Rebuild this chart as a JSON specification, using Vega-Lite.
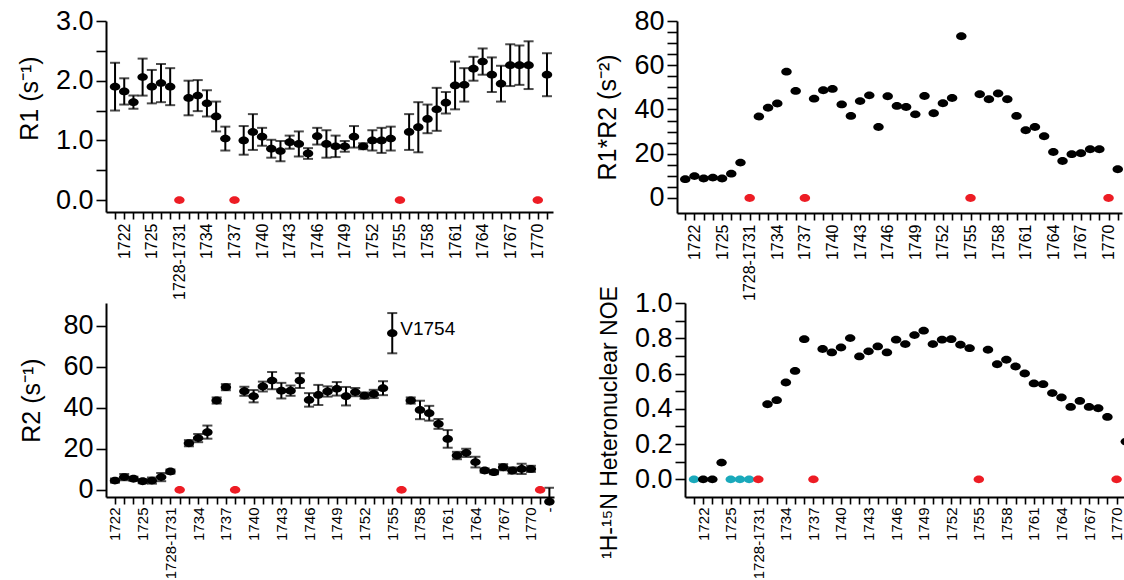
{
  "$schema": "https://vega.github.io/schema/vega-lite/v6.json",
  "background": "white",
  "padding": {"left": 17, "top": 7, "right": 0, "bottom": 0},
  "datasets": {
    "rows": [
      {"res":"1721","k":"data","nk":"nd","r1":1.90,"r1e":0.40,"r2":4.5,"r2e":1.0,"r1r2":8.5,"noe":0},
      {"res":"1722","k":"data","nk":"data","r1":1.82,"r1e":0.22,"r2":6.2,"r2e":1.5,"r1r2":9.9,"noe":0},
      {"res":"1723","k":"data","nk":"data","r1":1.64,"r1e":0.11,"r2":5.4,"r2e":1.0,"r1r2":8.8,"noe":0},
      {"res":"1724","k":"data","nk":"data","r1":2.06,"r1e":0.31,"r2":4.2,"r2e":1.0,"r1r2":9.2,"noe":0.095},
      {"res":"1725","k":"data","nk":"nd","r1":1.90,"r1e":0.28,"r2":4.5,"r2e":1.5,"r1r2":8.8,"noe":0},
      {"res":"1726","k":"data","nk":"nd","r1":1.96,"r1e":0.32,"r2":6.2,"r2e":2.0,"r1r2":11.0,"noe":0},
      {"res":"1727","k":"data","nk":"nd","r1":1.90,"r1e":0.31,"r2":8.9,"r2e":1.0,"r1r2":16.0,"noe":0},
      {"res":"1728-1731","k":"gap","nk":"gap","r1":0,"r2":0,"r1r2":0,"noe":0},
      {"res":"1732","k":"data","nk":"data","r1":1.71,"r1e":0.29,"r2":22.7,"r2e":1.5,"r1r2":36.8,"noe":0.426},
      {"res":"1733","k":"data","nk":"data","r1":1.75,"r1e":0.26,"r2":25.2,"r2e":2.0,"r1r2":40.8,"noe":0.449},
      {"res":"1734","k":"data","nk":"data","r1":1.62,"r1e":0.22,"r2":28.1,"r2e":3.2,"r1r2":42.7,"noe":0.549},
      {"res":"1735","k":"data","nk":"data","r1":1.40,"r1e":0.25,"r2":43.5,"r2e":1.5,"r1r2":57.1,"noe":0.615},
      {"res":"1736","k":"data","nk":"data","r1":1.03,"r1e":0.20,"r2":50.0,"r2e":1.5,"r1r2":48.4,"noe":0.795},
      {"res":"1737","k":"gap","nk":"gap","r1":0,"r2":0,"r1r2":0,"noe":0},
      {"res":"1738","k":"data","nk":"data","r1":1.00,"r1e":0.24,"r2":48.0,"r2e":2.2,"r1r2":44.9,"noe":0.739},
      {"res":"1739","k":"data","nk":"data","r1":1.14,"r1e":0.30,"r2":45.6,"r2e":3.0,"r1r2":48.7,"noe":0.720},
      {"res":"1740","k":"data","nk":"data","r1":1.06,"r1e":0.15,"r2":50.3,"r2e":2.4,"r1r2":49.3,"noe":0.748},
      {"res":"1741","k":"data","nk":"data","r1":0.86,"r1e":0.15,"r2":53.2,"r2e":4.2,"r1r2":42.3,"noe":0.801},
      {"res":"1742","k":"data","nk":"data","r1":0.82,"r1e":0.17,"r2":48.3,"r2e":3.8,"r1r2":37.1,"noe":0.697},
      {"res":"1743","k":"data","nk":"data","r1":0.97,"r1e":0.11,"r2":48.3,"r2e":2.5,"r1r2":43.8,"noe":0.726},
      {"res":"1744","k":"data","nk":"data","r1":0.94,"r1e":0.21,"r2":53.2,"r2e":3.6,"r1r2":46.4,"noe":0.754},
      {"res":"1745","k":"data","nk":"data","r1":0.78,"r1e":0.09,"r2":43.8,"r2e":3.3,"r1r2":32.1,"noe":0.720},
      {"res":"1746","k":"data","nk":"data","r1":1.07,"r1e":0.14,"r2":46.2,"r2e":4.9,"r1r2":46.0,"noe":0.792},
      {"res":"1747","k":"data","nk":"data","r1":0.94,"r1e":0.23,"r2":47.9,"r2e":2.5,"r1r2":41.6,"noe":0.767},
      {"res":"1748","k":"data","nk":"data","r1":0.90,"r1e":0.18,"r2":49.2,"r2e":3.3,"r1r2":41.1,"noe":0.818},
      {"res":"1749","k":"data","nk":"data","r1":0.90,"r1e":0.09,"r2":45.6,"r2e":4.5,"r1r2":37.8,"noe":0.843},
      {"res":"1750","k":"data","nk":"data","r1":1.06,"r1e":0.18,"r2":47.6,"r2e":2.0,"r1r2":46.1,"noe":0.767},
      {"res":"1751","k":"data","nk":"data","r1":0.90,"r1e":0.05,"r2":45.9,"r2e":1.5,"r1r2":38.3,"noe":0.792},
      {"res":"1752","k":"data","nk":"data","r1":1.00,"r1e":0.17,"r2":46.7,"r2e":2.0,"r1r2":42.8,"noe":0.795},
      {"res":"1753","k":"data","nk":"data","r1":1.00,"r1e":0.21,"r2":49.5,"r2e":3.4,"r1r2":45.2,"noe":0.763},
      {"res":"1754","k":"data","nk":"data","r1":1.03,"r1e":0.20,"r2":76.3,"r2e":9.8,"r1r2":73.1,"noe":0.744,"note":"V1754"},
      {"res":"1755","k":"gap","nk":"gap","r1":0,"r2":0,"r1r2":0,"noe":0},
      {"res":"1756","k":"data","nk":"data","r1":1.14,"r1e":0.30,"r2":43.5,"r2e":1.5,"r1r2":46.9,"noe":0.735},
      {"res":"1757","k":"data","nk":"data","r1":1.22,"r1e":0.42,"r2":38.9,"r2e":4.5,"r1r2":44.6,"noe":0.653},
      {"res":"1758","k":"data","nk":"data","r1":1.36,"r1e":0.24,"r2":37.3,"r2e":3.6,"r1r2":47.2,"noe":0.678},
      {"res":"1759","k":"data","nk":"data","r1":1.52,"r1e":0.36,"r2":32.1,"r2e":2.4,"r1r2":44.6,"noe":0.640},
      {"res":"1760","k":"data","nk":"data","r1":1.63,"r1e":0.18,"r2":24.8,"r2e":4.3,"r1r2":37.1,"noe":0.600},
      {"res":"1761","k":"data","nk":"data","r1":1.92,"r1e":0.40,"r2":16.7,"r2e":1.8,"r1r2":30.6,"noe":0.544},
      {"res":"1762","k":"data","nk":"data","r1":1.93,"r1e":0.28,"r2":18.0,"r2e":2.0,"r1r2":32.1,"noe":0.540},
      {"res":"1763","k":"data","nk":"data","r1":2.20,"r1e":0.20,"r2":13.5,"r2e":2.6,"r1r2":27.9,"noe":0.489},
      {"res":"1764","k":"data","nk":"data","r1":2.32,"r1e":0.22,"r2":9.4,"r2e":1.0,"r1r2":20.8,"noe":0.464},
      {"res":"1765","k":"data","nk":"data","r1":2.10,"r1e":0.29,"r2":8.6,"r2e":1.0,"r1r2":16.7,"noe":0.411},
      {"res":"1766","k":"data","nk":"data","r1":1.95,"r1e":0.30,"r2":11.0,"r2e":1.5,"r1r2":19.8,"noe":0.445},
      {"res":"1767","k":"data","nk":"data","r1":2.26,"r1e":0.35,"r2":9.4,"r2e":1.5,"r1r2":20.2,"noe":0.411},
      {"res":"1768","k":"data","nk":"data","r1":2.26,"r1e":0.33,"r2":10.2,"r2e":2.5,"r1r2":22.0,"noe":0.403},
      {"res":"1769","k":"data","nk":"data","r1":2.26,"r1e":0.40,"r2":10.2,"r2e":1.5,"r1r2":22.0,"noe":0.354},
      {"res":"1770","k":"gap","nk":"gap","r1":0,"r2":0,"r1r2":0,"noe":0},
      {"res":"1771","k":"data","nk":"data","r1":2.10,"r1e":0.36,"r2":-5.8,"r2e":6.8,"r1r2":13.0,"noe":0.214}
    ]
  },
  "spacing": -16,
  "vconcat": [
    {
      "bounds": "flush",
      "spacing": 124,
      "hconcat": [
        {
          "width": 447, "height": 191,
          "data": {"name": "rows"},
          "encoding": {
            "x": {"field": "res", "type": "ordinal",
              "scale": {"type": "point", "padding": 0.82, "align": 0.6, "domain": ["1721","1722","1723","1724","1725","1726","1727","1728-1731","1732","1733","1734","1735","1736","1737","1738","1739","1740","1741","1742","1743","1744","1745","1746","1747","1748","1749","1750","1751","1752","1753","1754","1755","1756","1757","1758","1759","1760","1761","1762","1763","1764","1765","1766","1767","1768","1769","1770","1771"]},
              "axis": {"title": null, "labelExpr": "indexof(['1722','1725','1728-1731','1734','1737','1740','1743','1746','1749','1752','1755','1758','1761','1764','1767','1770'], datum.value) >= 0 ? datum.value : ''"}}
          },
          "layer": [
            {
              "transform": [{"filter": "datum.k == 'data'"}],
              "mark": {"type": "errorbar", "ticks": {"size": 10, "thickness": 2, "color": "#000000"}, "thickness": 2, "color": "#000000"},
              "encoding": {
                "y": {"field": "r1", "type": "quantitative", "scale": {"domain": [-0.2, 3.0], "nice": false, "zero": false},
                  "axis": {"title": "R1 (s⁻¹)", "titleY": 77, "values": [0,0.5,1,1.5,2,2.5,3], "format": ".1f", "labelExpr": "datum.value % 1 == 0 ? datum.label : ''"}},
                "yError": {"field": "r1e"}
              }
            },
            {
              "mark": {"type": "point", "shape": "M-1,0A1,0.75,0,1,1,1,0A1,0.75,0,1,1,-1,0Z", "filled": true, "size": 110, "opacity": 1},
              "encoding": {
                "y": {"field": "r1", "type": "quantitative", "scale": {"domain": [-0.2, 3.0], "nice": false, "zero": false},
                  "axis": {"title": "R1 (s⁻¹)", "titleY": 77, "values": [0,0.5,1,1.5,2,2.5,3], "format": ".1f", "labelExpr": "datum.value % 1 == 0 ? datum.label : ''"}},
                "color": {"field": "k", "type": "nominal", "legend": null, "scale": {"domain": ["data","gap","nd"], "range": ["#000000","#ed1c24","#1aa9bb"]}}
              }
            }
          ]
        },
        {
          "width": 445, "height": 192,
          "data": {"name": "rows"},
          "encoding": {
            "x": {"field": "res", "type": "ordinal",
              "scale": {"type": "point", "padding": 0.68, "align": 0.66, "domain": ["1721","1722","1723","1724","1725","1726","1727","1728-1731","1732","1733","1734","1735","1736","1737","1738","1739","1740","1741","1742","1743","1744","1745","1746","1747","1748","1749","1750","1751","1752","1753","1754","1755","1756","1757","1758","1759","1760","1761","1762","1763","1764","1765","1766","1767","1768","1769","1770","1771"]},
              "axis": {"title": null, "labelExpr": "indexof(['1722','1725','1728-1731','1734','1737','1740','1743','1746','1749','1752','1755','1758','1761','1764','1767','1770'], datum.value) >= 0 ? datum.value : ''"}},
            "y": {"field": "r1r2", "type": "quantitative", "scale": {"domain": [-6.8, 80], "nice": false, "zero": false},
              "axis": {"title": "R1*R2 (s⁻²)", "values": [0,5,10,15,20,25,30,35,40,45,50,55,60,65,70,75,80], "labelExpr": "datum.value % 20 == 0 ? datum.label : ''"}},
            "color": {"field": "k", "type": "nominal", "legend": null, "scale": {"domain": ["data","gap","nd"], "range": ["#000000","#ed1c24","#1aa9bb"]}}
          },
          "mark": {"type": "point", "shape": "M-1,0A1,0.75,0,1,1,1,0A1,0.75,0,1,1,-1,0Z", "filled": true, "size": 110, "opacity": 1}
        }
      ]
    },
    {
      "bounds": "flush",
      "spacing": 131,
      "hconcat": [
        {
          "width": 448, "height": 194,
          "data": {"name": "rows"},
          "encoding": {
            "x": {"field": "res", "type": "ordinal",
              "scale": {"type": "point", "padding": 0.735, "align": 0.66, "domain": ["1721","1722","1723","1724","1725","1726","1727","1728-1731","1732","1733","1734","1735","1736","1737","1738","1739","1740","1741","1742","1743","1744","1745","1746","1747","1748","1749","1750","1751","1752","1753","1754","1755","1756","1757","1758","1759","1760","1761","1762","1763","1764","1765","1766","1767","1768","1769","1770","1771"]},
              "axis": {"title": null, "labelFontSize": 15, "labelPadding": 3, "labelExpr": "indexof(['1721','1724','1727','1733','1736','1739','1742','1745','1748','1751','1754','1757','1760','1763','1766','1769','1771'], datum.value) >= 0 ? ['1722','1725','1728-1731','1734','1737','1740','1743','1746','1749','1752','1755','1758','1761','1764','1767','1770','-'][indexof(['1721','1724','1727','1733','1736','1739','1742','1745','1748','1751','1754','1757','1760','1763','1766','1769','1771'], datum.value)] : ''"}}
          },
          "layer": [
            {
              "transform": [{"filter": "datum.k == 'data'"}],
              "mark": {"type": "errorbar", "clip": true, "ticks": {"size": 10, "thickness": 2, "color": "#000000"}, "thickness": 2, "color": "#000000"},
              "encoding": {
                "y": {"field": "r2", "type": "quantitative", "scale": {"domain": [-3.5, 91], "nice": false, "zero": false},
                  "axis": {"title": "R2 (s⁻¹)", "titlePadding": 18, "values": [0,5,10,15,20,25,30,35,40,45,50,55,60,65,70,75,80,85,90], "labelExpr": "datum.value % 20 == 0 && datum.value <= 80 ? datum.label : ''"}},
                "yError": {"field": "r2e"}
              }
            },
            {
              "mark": {"type": "point", "shape": "M-1,0A1,0.75,0,1,1,1,0A1,0.75,0,1,1,-1,0Z", "filled": true, "size": 110, "opacity": 1},
              "encoding": {
                "y": {"field": "r2", "type": "quantitative", "scale": {"domain": [-3.5, 91], "nice": false, "zero": false},
                  "axis": {"title": "R2 (s⁻¹)", "titlePadding": 18, "values": [0,5,10,15,20,25,30,35,40,45,50,55,60,65,70,75,80,85,90], "labelExpr": "datum.value % 20 == 0 && datum.value <= 80 ? datum.label : ''"}},
                "color": {"field": "k", "type": "nominal", "legend": null, "scale": {"domain": ["data","gap","nd"], "range": ["#000000","#ed1c24","#1aa9bb"]}}
              }
            },
            {
              "transform": [{"filter": "isValid(datum.note)"}],
              "mark": {"type": "text", "align": "left", "dx": 8, "dy": -4, "fontSize": 19, "font": "Liberation Sans, sans-serif", "color": "#000000"},
              "encoding": {
                "y": {"field": "r2", "type": "quantitative"},
                "text": {"field": "note"}
              }
            }
          ]
        },
        {
          "width": 444, "height": 194,
          "data": {"name": "rows"},
          "encoding": {
            "x": {"field": "res", "type": "ordinal",
              "scale": {"type": "point", "padding": 0.665, "align": 0.737, "domain": ["1721","1722","1723","1724","1725","1726","1727","1728-1731","1732","1733","1734","1735","1736","1737","1738","1739","1740","1741","1742","1743","1744","1745","1746","1747","1748","1749","1750","1751","1752","1753","1754","1755","1756","1757","1758","1759","1760","1761","1762","1763","1764","1765","1766","1767","1768","1769","1770","1771"]},
              "axis": {"title": null, "labelFontSize": 15, "labelPadding": 3, "labelExpr": "indexof(['1722','1725','1728-1731','1734','1737','1740','1743','1746','1749','1752','1755','1758','1761','1764','1767','1770'], datum.value) >= 0 ? datum.value : ''"}},
            "y": {"field": "noe", "type": "quantitative", "scale": {"domain": [-0.1, 1.0], "nice": false, "zero": false},
              "axis": {"title": "¹H-¹⁵N Heteronuclear NOE", "titleFontSize": 23, "titleY": 119, "values": [0,0.1,0.2,0.3,0.4,0.5,0.6,0.7,0.8,0.9,1.0], "format": ".1f", "labelExpr": "round(datum.value * 10) % 2 == 0 ? datum.label : ''"}},
            "color": {"field": "nk", "type": "nominal", "legend": null, "scale": {"domain": ["data","gap","nd"], "range": ["#000000","#ed1c24","#1aa9bb"]}}
          },
          "mark": {"type": "point", "clip": true, "shape": "M-1,0A1,0.75,0,1,1,1,0A1,0.75,0,1,1,-1,0Z", "filled": true, "size": 110, "opacity": 1}
        }
      ]
    }
  ],
  "config": {
    "view": {"stroke": null},
    "axis": {
      "domainColor": "#000000", "domainWidth": 2, "tickColor": "#000000", "tickWidth": 1.6,
      "labelColor": "#000000", "titleColor": "#000000", "grid": false,
      "labelFont": "Liberation Sans, sans-serif",
      "titleFont": "Liberation Sans, sans-serif",
      "titleFontWeight": "normal"
    },
    "axisX": {"labelAngle": 270, "labelFontSize": 16, "tickSize": 7, "labelPadding": 4, "labelOverlap": false},
    "axisY": {"labelFontSize": 27, "tickSize": 10, "labelPadding": 3, "titleFontSize": 25, "titlePadding": 13}
  }
}
